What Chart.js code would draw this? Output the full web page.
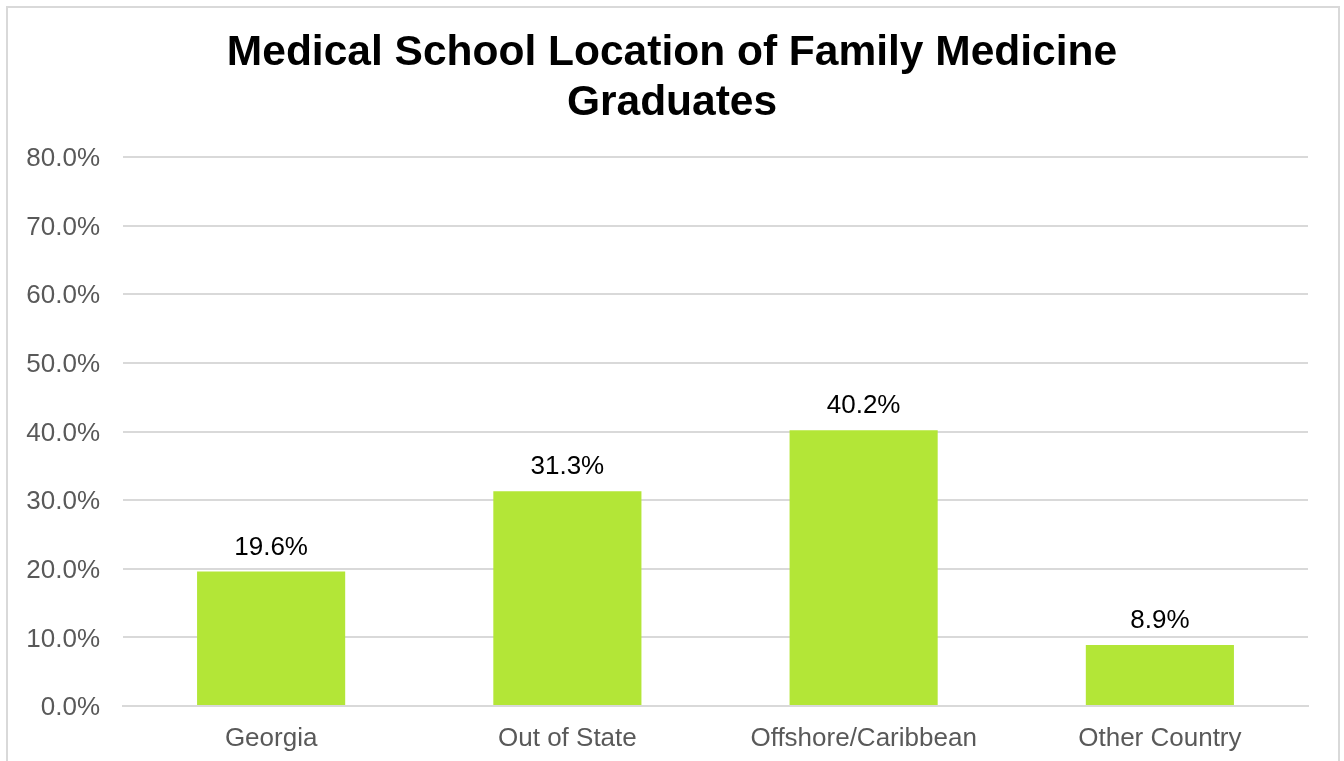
<!DOCTYPE html>
<html>
<head>
<meta charset="utf-8">
<script src="https://cdn.jsdelivr.net/npm/chart.js@4"></script>
<style>
  html, body { margin: 0; padding: 0; background: #fff; overflow: hidden; }
  #frame { position: absolute; left: 6px; top: 6px; width: 1330px; height: 800px; border: 2px solid #d9d9d9; pointer-events: none; }
  canvas { position: absolute; left: 0; top: 0; }
</style>
</head>
<body>
<canvas id="schoolChart" width="1344" height="761"></canvas>
<div id="frame"></div>
<script>
// Data
const categories = ['Georgia', 'Out of State', 'Offshore/Caribbean', 'Other Country'];
const shares = [19.6, 31.3, 40.2, 8.9];
const titleLines = ['Medical School Location of Family Medicine', 'Graduates'];

// value labels above the bars
const barLabels = {
    id: 'barLabels',
    afterDatasetsDraw(chart) {
        const ctx = chart.ctx;
        const meta = chart.getDatasetMeta(0);
        ctx.save();
        ctx.font = '26px "Liberation Sans", Arial, sans-serif';
        ctx.fillStyle = '#000';
        ctx.textAlign = 'center';
        ctx.textBaseline = 'middle';
        meta.data.forEach(function (bar, i) {
            ctx.fillText(shares[i].toFixed(1) + '%', bar.x, bar.y - 24);
        });
        ctx.restore();
    }
};

// title centred on the whole canvas (built-in title centres on the padded box)
const centredTitle = {
    id: 'centredTitle',
    afterDraw(chart) {
        const ctx = chart.ctx;
        ctx.save();
        ctx.font = 'bold 42.5px "Liberation Sans", Arial, sans-serif';
        ctx.fillStyle = '#000';
        ctx.textAlign = 'center';
        ctx.textBaseline = 'middle';
        titleLines.forEach(function (line, i) {
            ctx.fillText(line, chart.width / 2, 53 + i * 50);
        });
        ctx.restore();
    }
};

const schoolCnt = document.getElementById('schoolChart').getContext('2d');
const schoolChart = new Chart(schoolCnt, {
    type: 'bar',
    data: {
        labels: categories,
        datasets: [{
            label: 'Share',
            data: shares,
            backgroundColor: '#b3e637',
            barPercentage: 0.5,
            categoryPercentage: 1
        }]
    },
    options: {
        responsive: false,
        animation: false,
        layout: {
            padding: {left: 24, right: 36, top: 157, bottom: 7}
        },
        plugins: {
            legend: {display: false},
            tooltip: {enabled: false},
            title: {display: false}
        },
        scales: {
            x: {
                grid: {display: false, drawTicks: false},
                border: {display: true, color: '#d9d9d9', width: 2},
                afterFit: function (scale) { scale.height = 48; },
                ticks: {
                    color: '#595959',
                    padding: 17,
                    font: {family: '"Liberation Sans", Arial, sans-serif', size: 26}
                }
            },
            y: {
                min: 0,
                max: 80,
                grid: {color: '#d9d9d9', lineWidth: 2, drawTicks: false},
                border: {display: false},
                afterFit: function (scale) { scale.width = 99; },
                ticks: {
                    stepSize: 10,
                    color: '#595959',
                    padding: 23,
                    labelOffset: 2,
                    font: {family: '"Liberation Sans", Arial, sans-serif', size: 26},
                    callback: function (v) { return v.toFixed(1) + '%'; }
                }
            }
        }
    },
    plugins: [barLabels, centredTitle]
});
</script>
</body>
</html>
